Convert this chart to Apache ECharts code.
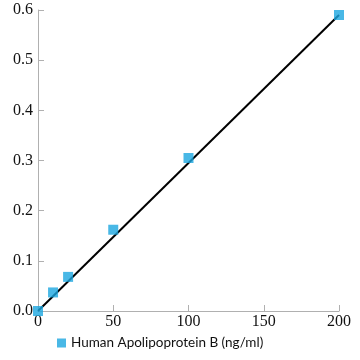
<!DOCTYPE html>
<html><head><meta charset="utf-8">
<script src="https://cdn.jsdelivr.net/npm/echarts@6/dist/echarts.min.js"></script>
<style>html,body{margin:0;padding:0;background:#fff}#c{width:360px;height:360px}</style>
</head><body><div id="c"></div>
<script>
var concentrations = [0, 10, 20, 50, 100, 200];
var absorbance = [0.0, 0.037, 0.068, 0.162, 0.305, 0.59];
var fitLine = [[0, 0.0], [200, 0.59]];
var xTicks = [0, 50, 100, 150, 200];
var yTicks = [0, 0.1, 0.2, 0.3, 0.4, 0.5, 0.6];
var seriesName = 'Human Apolipoprotein B (ng/ml)';

var chart = echarts.init(document.getElementById('c'));
var axisStyle = {color: '#b0b0b0', width: 1};
var serif = 'Liberation Serif';
chart.setOption({
  animation: false,
  textStyle: {fontFamily: serif},
  grid: {left: 38, right: 21, top: 10, bottom: 49},
  xAxis: {
    type: 'value', min: 0, max: 200, interval: 50,
    axisLine: {show: true, lineStyle: axisStyle},
    axisTick: {show: true, inside: true, length: 6, lineStyle: axisStyle},
    splitLine: {show: false},
    axisLabel: {show: true, fontFamily: serif, fontSize: 16, color: '#111', margin: 3}
  },
  yAxis: {
    type: 'value', min: 0, max: 0.6, interval: 0.1,
    axisLine: {show: true, lineStyle: axisStyle},
    axisTick: {show: true, inside: true, length: 6, lineStyle: axisStyle},
    splitLine: {show: false},
    axisLabel: {show: true, fontFamily: serif, fontSize: 16, color: '#111', margin: 5,
      formatter: function (v) { return v.toFixed(1); }}
  },
  legend: {
    left: 57, top: 336,
    data: [{name: seriesName, icon: 'rect'}],
    itemWidth: 9, itemHeight: 9, itemGap: 5, padding: 0,
    textStyle: {fontFamily: 'Lato', fontSize: 13.5, color: '#111'}
  },
  series: [
    {type: 'line', name: 'fit', data: fitLine, symbol: 'none', lineStyle: {color: '#000', width: 2}, z: 2},
    {type: 'scatter', name: seriesName,
     data: concentrations.map(function (x, i) { return [x, absorbance[i]]; }),
     symbol: 'rect', symbolSize: 10, itemStyle: {color: '#1ba6e0'}, z: 3}
  ]
});
</script></body></html>
